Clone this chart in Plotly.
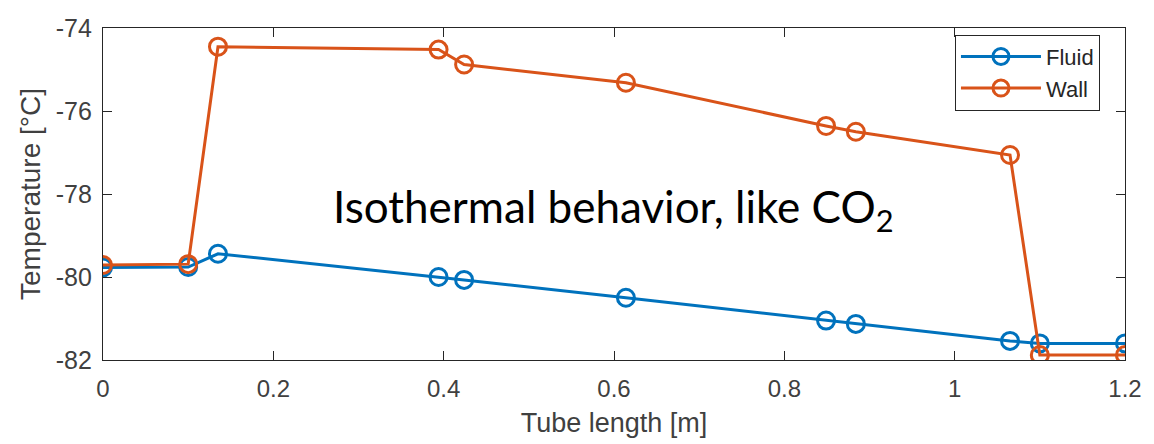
import plotly.graph_objects as go

tube_length = [0.0, 0.1, 0.135, 0.394, 0.424, 0.614, 0.849, 0.884, 1.065, 1.1, 1.2]
fluid_temp = [-79.77, -79.76, -79.44, -80.0, -80.07, -80.5, -81.05, -81.13, -81.54, -81.6, -81.6]
wall_temp = [-79.71, -79.69, -74.45, -74.52, -74.88, -75.32, -76.36, -76.5, -77.06, -81.88, -81.88]

x_ticks = [0, 0.2, 0.4, 0.6, 0.8, 1.0, 1.2]
x_tick_labels = ["0", "0.2", "0.4", "0.6", "0.8", "1", "1.2"]
y_ticks = [-82, -80, -78, -76, -74]
y_tick_labels = ["-82", "-80", "-78", "-76", "-74"]

BLUE = "#0072BD"
ORANGE = "#D95319"
AX = "#262626"
FONT = "Liberation Sans"

fig = go.Figure()
fig.add_trace(go.Scatter(
    x=tube_length, y=fluid_temp, name="Fluid", mode="lines+markers",
    line=dict(color=BLUE, width=3),
    marker=dict(symbol="circle-open", size=17, color=BLUE, line=dict(width=3)),
))
fig.add_trace(go.Scatter(
    x=tube_length, y=wall_temp, name="Wall", mode="lines+markers",
    line=dict(color=ORANGE, width=3),
    marker=dict(symbol="circle-open", size=17, color=ORANGE, line=dict(width=3)),
))

axis_common = dict(
    showgrid=False, zeroline=False, showline=True, linecolor=AX, linewidth=1.3,
    mirror="ticks", ticks="inside", ticklen=9, tickwidth=1.3, tickcolor=AX,
)

fig.update_xaxes(
    range=[0, 1.2], tickvals=x_ticks, ticktext=x_tick_labels,
    tickfont=dict(family=FONT, size=24, color="#404040"), ticklabelstandoff=7,
    title=dict(text="Tube length [m]", font=dict(family=FONT, size=27, color="#404040"), standoff=12),
    **axis_common,
)
fig.update_yaxes(
    range=[-82, -74], tickvals=y_ticks, ticktext=y_tick_labels,
    tickfont=dict(family=FONT, size=25, color="#404040"), ticklabelstandoff=5,
    title=dict(text="Temperature [°C]", font=dict(family=FONT, size=28, color="#404040"), standoff=6),
    **axis_common,
)

fig.add_annotation(
    x=0.599, y=-78.38, xref="x", yref="y",
    text="Isothermal behavior, like CO<sub>2</sub>",
    showarrow=False,
    font=dict(family="Lato", size=44, color="black"),
)

fig.update_layout(
    width=1154, height=444,
    margin=dict(l=103, r=29, t=28, b=84),
    paper_bgcolor="white", plot_bgcolor="white",
    showlegend=True,
    legend=dict(
        x=0.9755, y=0.98, xanchor="right", yanchor="top",
        bordercolor=AX, borderwidth=1, bgcolor="white",
        font=dict(family=FONT, size=22, color="#262626"),
        itemwidth=80, tracegroupgap=0,
    ),
)

fig.write_html("out.html")
